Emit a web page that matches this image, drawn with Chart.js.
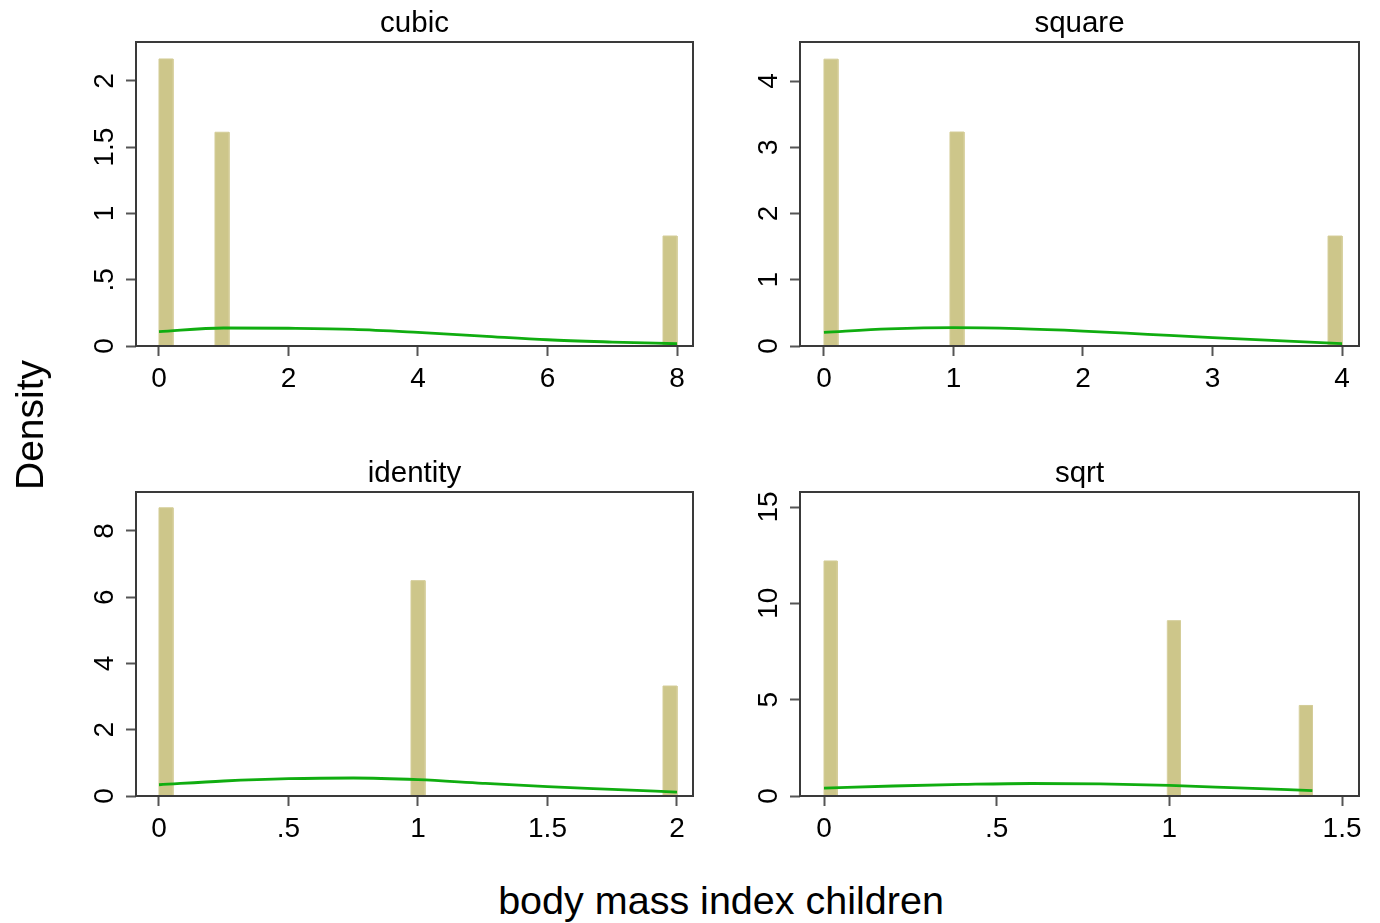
<!DOCTYPE html>
<html>
<head>
<meta charset="utf-8">
<script src="https://cdn.jsdelivr.net/npm/chart.js@4.4.0/dist/chart.umd.min.js"></script>
<style>
    body {
        margin: 0;
        background: #ffffff;
        width: 1380px;
        height: 923px;
        position: relative;
        overflow: hidden;
        font-family: 'Liberation Sans', Arial, sans-serif;
    }
    canvas { position: absolute; }
    #y-title {
        position: absolute;
        left: 30px;
        top: 425px;
        transform: translate(-50%, -50%) rotate(-90deg);
        font-size: 39px;
        white-space: nowrap;
        color: #000;
    }
    #x-title {
        position: absolute;
        left: 721px;
        top: 900px;
        transform: translate(-50%, -50%);
        font-size: 39.5px;
        white-space: nowrap;
        color: #000;
    }
</style>
</head>
<body>
<canvas id="panel-cubic" width="700" height="420" style="left:0;top:0"></canvas>
<canvas id="panel-square" width="680" height="420" style="left:700px;top:0"></canvas>
<canvas id="panel-identity" width="700" height="420" style="left:0;top:450px"></canvas>
<canvas id="panel-sqrt" width="680" height="420" style="left:700px;top:450px"></canvas>
<div id="y-title">Density</div>
<div id="x-title">body mass index children</div>

<script>
// ---- data ----

// cubic
const cubicBinStart = [0, 0.865, 7.784];
const cubicBinWidth = 0.216;
const cubicDensity = [2.166, 1.613, 0.83];
const cubicKdeX = [0, 1, 2, 3, 4, 5, 6, 7, 8];
const cubicKdeY = [0.108, 0.136, 0.134, 0.126, 0.103, 0.075, 0.047, 0.03, 0.017];
const cubicXTicks = [0, 2, 4, 6, 8];
const cubicXLabels = ['0', '2', '4', '6', '8'];
const cubicYTicks = [0, 0.5, 1, 1.5, 2];
const cubicYLabels = ['0', '.5', '1', '1.5', '2'];

// square
const squareBinStart = [0, 0.973, 3.892];
const squareBinWidth = 0.108;
const squareDensity = [4.33, 3.23, 1.66];
const squareKdeX = [0, 0.5, 1, 1.5, 2, 2.5, 3, 3.5, 4];
const squareKdeY = [0.207, 0.257, 0.277, 0.262, 0.226, 0.176, 0.126, 0.081, 0.036];
const squareXTicks = [0, 1, 2, 3, 4];
const squareXLabels = ['0', '1', '2', '3', '4'];
const squareYTicks = [0, 1, 2, 3, 4];
const squareYLabels = ['0', '1', '2', '3', '4'];

// identity
const identityBinStart = [0, 0.973, 1.946];
const identityBinWidth = 0.054;
const identityDensity = [8.7, 6.5, 3.32];
const identityKdeX = [0, 0.25, 0.5, 0.75, 1, 1.25, 1.5, 1.75, 2];
const identityKdeY = [0.34, 0.453, 0.523, 0.544, 0.493, 0.383, 0.282, 0.2, 0.12];
const identityXTicks = [0, 0.5, 1, 1.5, 2];
const identityXLabels = ['0', '.5', '1', '1.5', '2'];
const identityYTicks = [0, 2, 4, 6, 8];
const identityYLabels = ['0', '2', '4', '6', '8'];

// sqrt
const sqrtBinStart = [0, 0.994, 1.376];
const sqrtBinWidth = 0.0382;
const sqrtDensity = [12.2, 9.1, 4.7];
const sqrtKdeX = [0, 0.2, 0.4, 0.6, 0.8, 1.0, 1.2, 1.414];
const sqrtKdeY = [0.41, 0.52, 0.6, 0.65, 0.63, 0.55, 0.42, 0.28];
const sqrtXTicks = [0, 0.5, 1, 1.5];
const sqrtXLabels = ['0', '.5', '1', '1.5'];
const sqrtYTicks = [0, 5, 10, 15];
const sqrtYLabels = ['0', '5', '10', '15'];

// ---- styles ----
const FONT = "'Liberation Sans', Arial, sans-serif";
const BAR_FILL = '#cdc68a';
const BAR_EDGE = '#d4cd98';
const KDE_COLOR = '#10ad10';
const FRAME_COLOR = '#3a3a3a';
const TICK_COLOR = '#555555';

// Frame, panel title and rotated y tick labels
const panelDecor = {
    id: 'panelDecor',
    afterDraw(chart, args, opts) {
        const ctx = chart.ctx;
        const area = chart.chartArea;
        ctx.save();
        ctx.strokeStyle = FRAME_COLOR;
        ctx.lineWidth = 2;
        ctx.strokeRect(area.left, area.top, area.right - area.left, area.bottom - area.top);

        ctx.fillStyle = '#000';
        ctx.font = '29.5px ' + FONT;
        ctx.textAlign = 'center';
        ctx.textBaseline = 'alphabetic';
        ctx.fillText(opts.title, (area.left + area.right) / 2, area.top - 10);

        const yScale = chart.scales.y;
        ctx.font = '28px ' + FONT;
        ctx.textBaseline = 'middle';
        opts.yTicks.forEach((v, i) => {
            const py = yScale.getPixelForValue(v);
            ctx.save();
            ctx.translate(area.left - 31, py);
            ctx.rotate(-Math.PI / 2);
            ctx.fillText(opts.yLabels[i], 0, 0);
            ctx.restore();
        });
        ctx.restore();
    }
};

function barDatasets(starts, width, heights) {
    return starts.map((x0, i) => ({
        data: [
            { x: x0, y: 0 },
            { x: x0, y: heights[i] },
            { x: x0 + width, y: heights[i] },
            { x: x0 + width, y: 0 }
        ],
        showLine: true,
        fill: 'origin',
        backgroundColor: BAR_FILL,
        borderColor: BAR_EDGE,
        borderWidth: 1,
        pointRadius: 0,
        tension: 0,
        order: 1
    }));
}

function initPanel(canvasId, p) {
    const ctx = document.getElementById(canvasId);
    if (!ctx) return;

    const kde = {
        data: p.kdeX.map((x, i) => ({ x: x, y: p.kdeY[i] })),
        showLine: true,
        fill: false,
        borderColor: KDE_COLOR,
        borderWidth: 2.8,
        pointRadius: 0,
        cubicInterpolationMode: 'monotone',
        order: 0
    };

    return new Chart(ctx, {
        type: 'scatter',
        data: {
            datasets: [kde].concat(barDatasets(p.binStart, p.binWidth, p.density))
        },
        options: {
            responsive: false,
            animation: false,
            layout: {
                padding: { left: 0, top: 42, right: p.padRight, bottom: 0 }
            },
            plugins: {
                legend: { display: false },
                tooltip: { enabled: false },
                panelDecor: { title: p.title, yTicks: p.yTicks, yLabels: p.yLabels }
            },
            scales: {
                x: {
                    type: 'linear',
                    min: p.xMin,
                    max: p.xMax,
                    afterBuildTicks: (scale) => {
                        scale.ticks = p.xTicks.map(v => ({ value: v }));
                    },
                    afterFit: (scale) => { scale.height = 74; },
                    border: { display: false },
                    grid: {
                        drawOnChartArea: false,
                        drawTicks: true,
                        tickLength: 10,
                        tickWidth: 2,
                        tickColor: TICK_COLOR
                    },
                    ticks: {
                        color: '#000',
                        padding: 6,
                        maxRotation: 0,
                        autoSkip: false,
                        font: { size: 28, family: FONT },
                        callback: (value) => {
                            const i = p.xTicks.indexOf(value);
                            return i >= 0 ? p.xLabels[i] : '';
                        }
                    }
                },
                y: {
                    type: 'linear',
                    min: 0,
                    max: p.yMax,
                    afterBuildTicks: (scale) => {
                        scale.ticks = p.yTicks.map(v => ({ value: v }));
                    },
                    afterFit: (scale) => { scale.width = p.yWidth; },
                    border: { display: false },
                    grid: {
                        drawOnChartArea: false,
                        drawTicks: true,
                        tickLength: 10,
                        tickWidth: 2,
                        tickColor: TICK_COLOR
                    },
                    ticks: { display: false }
                }
            }
        },
        plugins: [panelDecor]
    });
}

initPanel('panel-cubic', {
    title: 'cubic', binStart: cubicBinStart, binWidth: cubicBinWidth, density: cubicDensity,
    kdeX: cubicKdeX, kdeY: cubicKdeY, xTicks: cubicXTicks, xLabels: cubicXLabels,
    yTicks: cubicYTicks, yLabels: cubicYLabels,
    xMin: -0.355, xMax: 8.247, yMax: 2.294, yWidth: 136, padRight: 7
});
initPanel('panel-square', {
    title: 'square', binStart: squareBinStart, binWidth: squareBinWidth, density: squareDensity,
    kdeX: squareKdeX, kdeY: squareKdeY, xTicks: squareXTicks, xLabels: squareXLabels,
    yTicks: squareYTicks, yLabels: squareYLabels,
    xMin: -0.185, xMax: 4.131, yMax: 4.589, yWidth: 100, padRight: 21
});
initPanel('panel-identity', {
    title: 'identity', binStart: identityBinStart, binWidth: identityBinWidth, density: identityDensity,
    kdeX: identityKdeX, kdeY: identityKdeY, xTicks: identityXTicks, xLabels: identityXLabels,
    yTicks: identityYTicks, yLabels: identityYLabels,
    xMin: -0.0888, xMax: 2.0618, yMax: 9.177, yWidth: 136, padRight: 7
});
initPanel('panel-sqrt', {
    title: 'sqrt', binStart: sqrtBinStart, binWidth: sqrtBinWidth, density: sqrtDensity,
    kdeX: sqrtKdeX, kdeY: sqrtKdeY, xTicks: sqrtXTicks, xLabels: sqrtXLabels,
    yTicks: sqrtYTicks, yLabels: sqrtYLabels,
    xMin: -0.0695, xMax: 1.549, yMax: 15.78, yWidth: 100, padRight: 21
});
</script>
</body>
</html>
